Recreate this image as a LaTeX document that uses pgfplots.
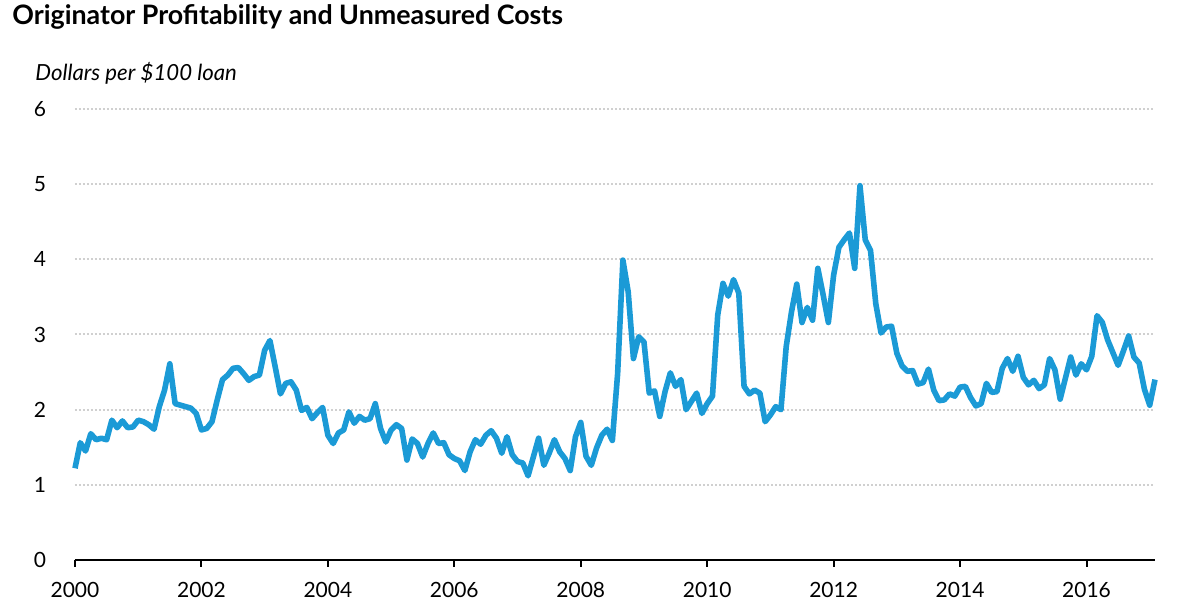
\documentclass[border=0pt]{standalone}
\usepackage{pgfplots}
\pgfplotsset{compat=1.18}
\usepackage{fontspec}
\setmainfont{Lato}
\definecolor{lineblue}{RGB}{27,154,214}
\definecolor{gridgray}{RGB}{208,208,208}

\begin{document}
\begin{tikzpicture}
  \begin{axis}[
    at={(0,0)}, anchor=origin,
    scale only axis,
    width=540pt, height=225.5pt,
    xmin=0, xmax=205, ymin=0, ymax=6,
    axis x line=bottom,
    axis y line=left,
    x axis line style={-, line width=1pt},
    y axis line style={draw=none},
    xtick={0,24,...,192},
    xticklabels={2000,2002,2004,2006,2008,2010,2012,2014,2016},
    ytick={0,1,...,6},
    tick align=outside,
    major tick length=3.5pt,
    xtick style={line width=1pt, black},
    ytick style={draw=none},
    ymajorgrids,
    grid style={gridgray, line width=1pt, dash pattern=on 1pt off 1pt},
    tick label style={font=\fontsize{10.5}{12}\selectfont},
    xticklabel style={yshift=-4pt},
    yticklabel style={anchor=east, xshift=-7.5pt},
    /pgf/number format/assume math mode=true,
    clip=false,
  ]
    \addplot[lineblue, line width=2.8pt, line join=round] table[x=m, y=v] {
      m v
      0 1.22
      1 1.56
      2 1.45
      3 1.68
      4 1.60
      5 1.62
      6 1.60
      7 1.86
      8 1.76
      9 1.85
      10 1.76
      11 1.77
      12 1.86
      13 1.84
      14 1.80
      15 1.74
      16 2.04
      17 2.26
      18 2.61
      19 2.08
      20 2.06
      21 2.04
      22 2.02
      23 1.95
      24 1.73
      25 1.75
      26 1.84
      27 2.13
      28 2.40
      29 2.46
      30 2.55
      31 2.56
      32 2.48
      33 2.39
      34 2.44
      35 2.46
      36 2.79
      37 2.92
      38 2.57
      39 2.21
      40 2.35
      41 2.37
      42 2.26
      43 1.99
      44 2.03
      45 1.88
      46 1.96
      47 2.03
      48 1.66
      49 1.55
      50 1.69
      51 1.73
      52 1.97
      53 1.82
      54 1.91
      55 1.86
      56 1.88
      57 2.08
      58 1.75
      59 1.57
      60 1.73
      61 1.80
      62 1.75
      63 1.33
      64 1.61
      65 1.55
      66 1.37
      67 1.55
      68 1.69
      69 1.55
      70 1.56
      71 1.40
      72 1.35
      73 1.32
      74 1.19
      75 1.44
      76 1.60
      77 1.54
      78 1.66
      79 1.72
      80 1.62
      81 1.42
      82 1.64
      83 1.40
      84 1.31
      85 1.29
      86 1.12
      87 1.37
      88 1.62
      89 1.26
      90 1.42
      91 1.60
      92 1.44
      93 1.35
      94 1.19
      95 1.64
      96 1.83
      97 1.38
      98 1.26
      99 1.49
      100 1.66
      101 1.74
      102 1.59
      103 2.48
      104 3.99
      105 3.57
      106 2.68
      107 2.97
      108 2.90
      109 2.22
      110 2.25
      111 1.91
      112 2.24
      113 2.49
      114 2.31
      115 2.40
      116 2.00
      117 2.11
      118 2.22
      119 1.95
      120 2.08
      121 2.18
      122 3.26
      123 3.68
      124 3.51
      125 3.73
      126 3.55
      127 2.31
      128 2.21
      129 2.26
      130 2.22
      131 1.84
      132 1.93
      133 2.04
      134 2.00
      135 2.84
      136 3.30
      137 3.67
      138 3.16
      139 3.36
      140 3.19
      141 3.88
      142 3.53
      143 3.16
      144 3.79
      145 4.16
      146 4.26
      147 4.35
      148 3.88
      149 4.98
      150 4.26
      151 4.12
      152 3.41
      153 3.02
      154 3.10
      155 3.11
      156 2.75
      157 2.58
      158 2.51
      159 2.52
      160 2.34
      161 2.36
      162 2.54
      163 2.26
      164 2.12
      165 2.13
      166 2.21
      167 2.18
      168 2.30
      169 2.31
      170 2.16
      171 2.05
      172 2.08
      173 2.35
      174 2.23
      175 2.24
      176 2.55
      177 2.68
      178 2.51
      179 2.71
      180 2.43
      181 2.33
      182 2.39
      183 2.28
      184 2.33
      185 2.68
      186 2.53
      187 2.14
      188 2.42
      189 2.70
      190 2.46
      191 2.61
      192 2.53
      193 2.71
      194 3.25
      195 3.16
      196 2.93
      197 2.76
      198 2.59
      199 2.78
      200 2.98
      201 2.70
      202 2.62
      203 2.27
      204 2.06
      205 2.40
    };
  \end{axis}
  % title and unit label above the plot
  \node[anchor=west, font=\bfseries\fontsize{13.4}{16}\selectfont, inner sep=0pt]
    at (-31.5pt,271.5pt) {Originator Profitability and Unmeasured Costs};
  \node[anchor=west, font=\itshape\fontsize{11.1}{13}\selectfont, inner sep=0pt]
    at (-20pt,243.5pt) {Dollars per \$100 loan};
  \useasboundingbox (-37.5pt,-27pt) rectangle (552.5pt,280pt);
\end{tikzpicture}
\end{document}
